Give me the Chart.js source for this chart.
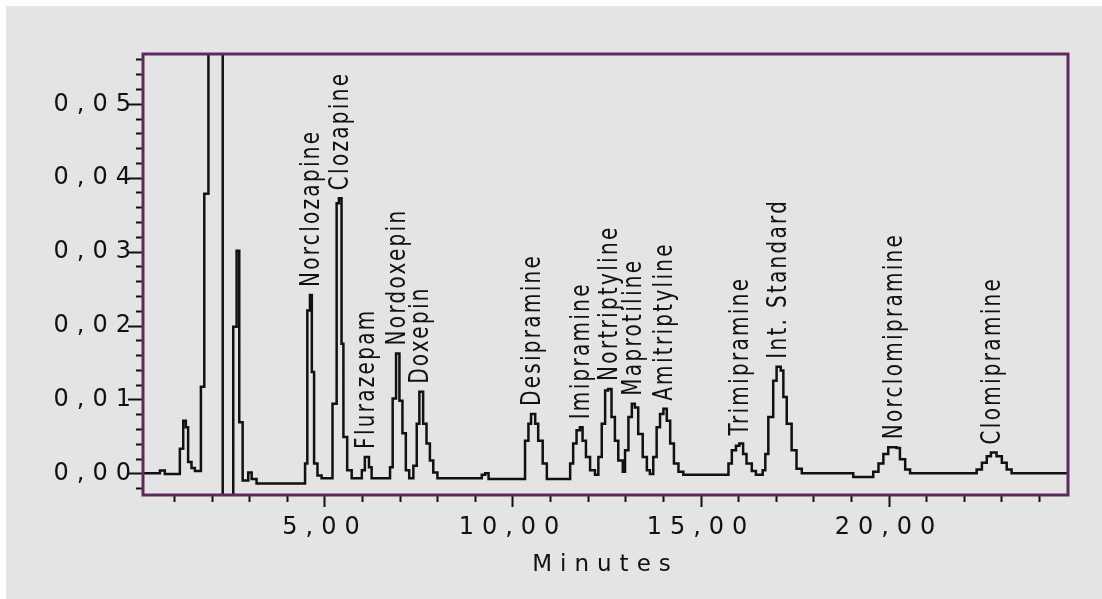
<!DOCTYPE html>
<html>
<head>
<meta charset="utf-8">
<script src="https://cdn.jsdelivr.net/npm/chart.js@4"></script>
<style>
  body { margin: 0; background: #fff; }
  #frame { position: absolute; left: 6px; top: 6px; width: 1096px; height: 593px; background: #e4e4e4; }
</style>
</head>
<body>
<div id="frame"><canvas id="chrom"></canvas></div>
<script>
// detector trace: [minutes, AU], each point is the level from that time on
var trace = [
    [0.17, 0.0001],
    [0.61, 0.00045], [0.74, 0.0000],
    [1.14, 0.0034], [1.23, 0.0072], [1.30, 0.0063], [1.36, 0.0016], [1.45, 0.0008], [1.54, 0.0004],
    [1.70, 0.0118], [1.79, 0.0379], [1.90, 0.2000],   // solvent front, off scale
    [2.28, -0.0200],
    [2.56, 0.0199], [2.65, 0.0302], [2.72, 0.0070], [2.81, -0.0009], [2.96, 0.0002], [3.05, -0.0007], [3.18, -0.0013],
    [4.47, 0.0014], [4.53, 0.0221], [4.60, 0.0242], [4.65, 0.0138], [4.71, 0.0014], [4.80, -0.0002], [4.91, -0.0006],
    [5.20, 0.0095], [5.31, 0.0366], [5.37, 0.0373], [5.44, 0.0176], [5.49, 0.0050], [5.59, 0.0005], [5.71, -0.0006],
    [5.98, 0.0005], [6.06, 0.0023], [6.17, 0.0009], [6.24, -0.0006],
    [6.73, 0.0009], [6.80, 0.0102], [6.89, 0.0163], [6.98, 0.0099], [7.06, 0.0055], [7.15, 0.0005], [7.24, -0.0006],
    [7.35, 0.0011], [7.44, 0.0068], [7.51, 0.0111], [7.61, 0.0068], [7.70, 0.0041], [7.79, 0.0018], [7.88, 0.0002], [7.99, -0.0006],
    [9.17, -0.0001], [9.26, 0.0001], [9.35, -0.0007],
    [10.32, 0.0045], [10.41, 0.0068], [10.48, 0.0081], [10.59, 0.0068], [10.67, 0.0045], [10.79, 0.0014], [10.90, -0.0007],
    [11.52, 0.0014], [11.60, 0.0041], [11.69, 0.0059], [11.78, 0.0063], [11.85, 0.0045], [11.94, 0.0023], [12.05, 0.0005], [12.18, -0.0001],
    [12.27, 0.0023], [12.36, 0.0068], [12.45, 0.0113], [12.53, 0.0115], [12.62, 0.0077], [12.71, 0.0045], [12.80, 0.0018], [12.92, 0.0003],
    [12.98, 0.0032], [13.07, 0.0077], [13.16, 0.0095], [13.24, 0.0090], [13.33, 0.0054], [13.45, 0.0023], [13.56, 0.0005], [13.64, 0.0000],
    [13.73, 0.0023], [13.82, 0.0063], [13.91, 0.0081], [14.00, 0.0088], [14.09, 0.0072], [14.18, 0.0041], [14.28, 0.0014], [14.40, 0.0003], [14.53, -0.0001],
    [15.73, 0.0014], [15.82, 0.0032], [15.93, 0.0038], [16.02, 0.0041], [16.12, 0.0027], [16.21, 0.0014], [16.35, 0.0004], [16.46, -0.0001],
    [16.64, 0.0005], [16.71, 0.0027], [16.79, 0.0077], [16.92, 0.0126], [17.01, 0.0145], [17.12, 0.0140], [17.19, 0.0104], [17.28, 0.0068], [17.41, 0.0032], [17.54, 0.0007], [17.68, 0.0001],
    [19.05, -0.0004], [19.58, 0.0003],
    [19.72, 0.0014], [19.85, 0.0027], [19.98, 0.0036], [20.20, 0.0035], [20.29, 0.0020], [20.43, 0.0006], [20.56, 0.0001],
    [22.33, 0.0006], [22.47, 0.0015], [22.60, 0.0024], [22.71, 0.0029], [22.86, 0.0024], [23.00, 0.0015], [23.13, 0.0006], [23.26, 0.0001],
    [24.76, 0.0001]
];

// identified peaks (apex time, apex height)
var peakNames = ["Norclozapine", "Clozapine", "Flurazepam", "Nordoxepin", "Doxepin",
    "Desipramine", "Imipramine", "Nortriptyline", "Maprotiline", "Amitriptyline",
    "Trimipramine", "Int. Standard", "Norclomipramine", "Clomipramine"];
var peakTimes = [4.60, 5.37, 6.06, 6.89, 7.51, 10.48, 11.78, 12.53, 13.16, 14.00, 16.02, 17.01, 20.10, 22.71];
var peakHeights = [0.0242, 0.0373, 0.0023, 0.0163, 0.0111, 0.0081, 0.0063, 0.0115, 0.0095, 0.0088, 0.0041, 0.0145, 0.0036, 0.0029];

// axis ranges
var timeRange = [0.16, 24.76];
var auRange = [-0.00285, 0.0568];

function isMultiple(v, step) {
    return Math.abs(v / step - Math.round(v / step)) < 1e-6;
}
function comma(v) {
    return v.toFixed(2).replace('.', ',');
}

var FONT = 'DejaVu Sans';
var INK = '#111';

// wide spacing for the axis text
var spacing = {
    id: 'spacing',
    beforeDraw: function (chart) {
        chart.ctx.letterSpacing = '8px';
    }
};

// frame round the plot and the peak names
var decorations = {
    id: 'decorations',
    afterDraw: function (chart) {
        var ctx = chart.ctx, a = chart.chartArea;
        var xs = chart.scales.x, ys = chart.scales.y;
        ctx.save();
        ctx.letterSpacing = '0px';
        ctx.strokeStyle = '#5e2a5e';
        ctx.lineWidth = 3;
        ctx.strokeRect(a.left, a.top, a.right - a.left, a.bottom - a.top);

        ctx.letterSpacing = '2.3px';
        ctx.font = '20px "' + FONT + '"';
        ctx.fillStyle = INK;
        ctx.textAlign = 'left';
        ctx.textBaseline = 'middle';
        peakNames.forEach(function (name, i) {
            var px = xs.getPixelForValue(peakTimes[i]) + 2;
            var py = ys.getPixelForValue(peakHeights[i]) - 8;
            ctx.save();
            ctx.translate(px, py);
            ctx.rotate(-Math.PI / 2);
            ctx.scale(1, 1.35);
            ctx.fillText(name, 0, 0);
            ctx.restore();
        });
        ctx.restore();
    }
};

var ctx = document.getElementById('chrom').getContext('2d');
new Chart(ctx, {
    type: 'line',
    data: {
        datasets: [{
            data: trace.map(function (p) { return {x: p[0], y: p[1]}; }),
            borderColor: INK,
            borderWidth: 2.5,
            pointRadius: 0,
            stepped: true,
            fill: false
        }]
    },
    options: {
        responsive: true,
        maintainAspectRatio: false,
        animation: false,
        layout: { padding: { top: 48, right: 34, left: 0, bottom: 0 } },
        plugins: {
            legend: { display: false },
            tooltip: { enabled: false }
        },
        scales: {
            x: {
                type: 'linear',
                position: 'bottom',
                min: timeRange[0],
                max: timeRange[1],
                border: { display: false },
                grid: {
                    drawOnChartArea: false,
                    tickLength: 12,
                    tickWidth: 2,
                    tickColor: INK,
                    tickBorderDash: function (c) {
                        return c.tick && isMultiple(c.tick.value, 5) ? [] : [7, 20];
                    }
                },
                ticks: {
                    stepSize: 1,
                    includeBounds: false,
                    autoSkip: false,
                    maxRotation: 0,
                    padding: 6,
                    color: INK,
                    font: { family: FONT, size: 24 },
                    callback: function (v) { return isMultiple(v, 5) ? comma(v) : ''; }
                },
                title: {
                    display: true,
                    text: 'Minutes',
                    color: INK,
                    font: { family: FONT, size: 23 },
                    padding: { top: 0, bottom: 20 }
                },
                afterFit: function (s) { s.height = 104; }
            },
            y: {
                min: auRange[0],
                max: auRange[1],
                border: { display: false },
                grid: {
                    drawOnChartArea: false,
                    tickLength: 15,
                    tickWidth: 2,
                    tickColor: INK,
                    tickBorderDash: function (c) {
                        return c.tick && isMultiple(c.tick.value, 0.01) ? [] : [0, 8, 8, 0];
                    }
                },
                ticks: {
                    stepSize: 0.002,
                    includeBounds: false,
                    autoSkip: false,
                    padding: -11,
                    color: INK,
                    font: { family: FONT, size: 24 },
                    callback: function (v) { return isMultiple(v, 0.01) ? comma(v) : ''; }
                },
                afterFit: function (s) { s.width = 137; }
            }
        }
    },
    plugins: [spacing, decorations]
});
</script>
</body>
</html>
